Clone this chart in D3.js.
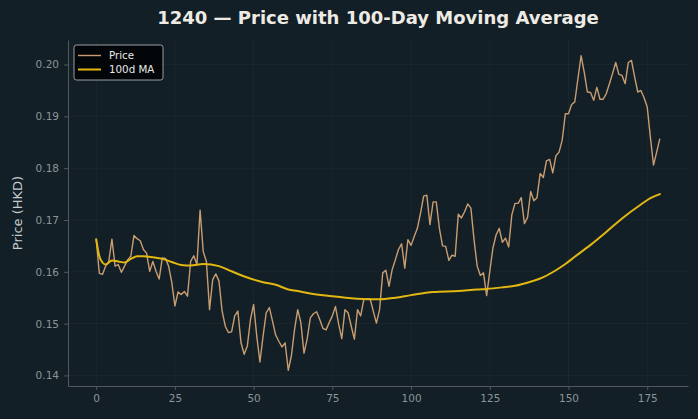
<!DOCTYPE html>
<html>
<head>
<meta charset="utf-8">
<script src="https://cdn.jsdelivr.net/npm/d3@7"></script>
<style>
  html, body { margin: 0; padding: 0; background: #121f26; }
  svg { display: block; font-family: "DejaVu Sans", sans-serif; }
</style>
</head>
<body>
<svg id="chart" width="698" height="419"></svg>
<script>
// closing price, one value per trading day (day 0..179)
const price = [
  0.1663, 0.1597, 0.1595, 0.1611, 0.1620, 0.1663, 0.1611, 0.1614, 0.1599, 0.1611,
  0.1623, 0.1630, 0.1670, 0.1664, 0.1660, 0.1643, 0.1636, 0.1601, 0.1620, 0.1601,
  0.1586, 0.1627, 0.1626, 0.1611, 0.1580, 0.1534, 0.1561, 0.1556, 0.1562, 0.1553,
  0.1620, 0.1631, 0.1614, 0.1719, 0.1639, 0.1620, 0.1527, 0.1585, 0.1596, 0.1582,
  0.1524, 0.1495, 0.1483, 0.1484, 0.1515, 0.1524, 0.1463, 0.1441, 0.1457, 0.1508,
  0.1537, 0.1476, 0.1426, 0.1476, 0.1521, 0.1531, 0.1505, 0.1478, 0.1466, 0.1455,
  0.1463, 0.1410, 0.1438, 0.1489, 0.1527, 0.1502, 0.1443, 0.1470, 0.1511, 0.1519,
  0.1523, 0.1508, 0.1491, 0.1488, 0.1502, 0.1515, 0.1533, 0.1499, 0.1471, 0.1527,
  0.1521, 0.1495, 0.1470, 0.1527, 0.1515, 0.1547, 0.1548, 0.1548, 0.1524, 0.1501,
  0.1527, 0.1598, 0.1603, 0.1572, 0.1604, 0.1623, 0.1643, 0.1654, 0.1607, 0.1662,
  0.1651, 0.1668, 0.1684, 0.1713, 0.1746, 0.1748, 0.1691, 0.1735, 0.1735, 0.1684,
  0.1650, 0.1649, 0.1622, 0.1632, 0.1630, 0.1711, 0.1704, 0.1716, 0.1731, 0.1723,
  0.1662, 0.1611, 0.1593, 0.1598, 0.1554, 0.1601, 0.1646, 0.1671, 0.1684, 0.1657,
  0.1665, 0.1648, 0.1710, 0.1732, 0.1732, 0.1743, 0.1693, 0.1705, 0.1755, 0.1737,
  0.1743, 0.1790, 0.1782, 0.1814, 0.1817, 0.1791, 0.1824, 0.1831, 0.1854, 0.1905,
  0.1905, 0.1923, 0.1928, 0.1973, 0.2017, 0.1985, 0.1947, 0.1946, 0.1931, 0.1956,
  0.1933, 0.1933, 0.1944, 0.1963, 0.1983, 0.2004, 0.1981, 0.1979, 0.1963, 0.2004,
  0.2008, 0.1976, 0.1947, 0.1950, 0.1936, 0.1918, 0.1860, 0.1806, 0.1831, 0.1857
];

// 100-day moving average at these days
const maDays = [0, 1, 2, 3, 5, 7, 9, 11, 13, 15, 18, 21, 24, 27, 30, 34, 39, 43, 48, 53,
  57, 61, 64, 68, 75, 81, 87, 90, 95, 100, 107, 115, 121, 124, 129, 133, 139, 141, 146,
  149, 152, 157, 162, 167, 173, 176, 179];
const maValues = [0.1663, 0.1630, 0.1618, 0.1614, 0.1622, 0.1620, 0.1618, 0.1625, 0.1630,
  0.1630, 0.1628, 0.1625, 0.1619, 0.1613, 0.1612, 0.1615, 0.1611, 0.1601, 0.1589, 0.1580,
  0.1575, 0.1566, 0.1563, 0.1558, 0.1553, 0.1549, 0.1547, 0.1547, 0.1550, 0.1555, 0.1561,
  0.1563, 0.1566, 0.1567, 0.1570, 0.1573, 0.1583, 0.1587, 0.1603, 0.1615, 0.1629, 0.1652,
  0.1677, 0.1703, 0.1730, 0.1742, 0.1750];

const xTicks = [0, 25, 50, 75, 100, 125, 150, 175];
const yTicks = [0.14, 0.15, 0.16, 0.17, 0.18, 0.19, 0.20];
const seriesNames = ["Price", "100d MA"];

const bg = "#121f26";
const priceColor = "#c99d71";
const maColor = "#e2b712";
const spineColor = "#4f595e";
const tickText = "#8b9599";

const svg = d3.select("#chart");
const width = 698, height = 419;
const margin = {left: 68, right: 10, top: 40, bottom: 33};

svg.append("rect").attr("width", width).attr("height", height).attr("fill", bg);

// matplotlib-style 5% padding around data
const xPad = (price.length - 1) * 0.05;
let yMin = d3.min(price), yMax = d3.max(price);
const yPad = (yMax - yMin) * 0.05;

const x = d3.scaleLinear()
  .domain([-xPad, price.length - 1 + xPad])
  .range([margin.left, width - margin.right]);
const y = d3.scaleLinear()
  .domain([yMin - yPad, yMax + yPad])
  .range([height - margin.bottom, margin.top]);

// grid
const grid = svg.append("g").attr("stroke", "#ffffff").attr("stroke-opacity", 0.045).attr("stroke-width", 0.8);
grid.selectAll("line.gx").data(xTicks).join("line")
  .attr("x1", d => x(d)).attr("x2", d => x(d))
  .attr("y1", margin.top).attr("y2", height - margin.bottom);
grid.selectAll("line.gy").data(yTicks).join("line")
  .attr("y1", d => y(d)).attr("y2", d => y(d))
  .attr("x1", margin.left).attr("x2", width - margin.right);

// axes
const xAxis = svg.append("g")
  .attr("transform", "translate(0," + (height - margin.bottom) + ")")
  .call(d3.axisBottom(x).tickValues(xTicks).tickSize(4).tickPadding(5).tickSizeOuter(0));
const yAxis = svg.append("g")
  .attr("transform", "translate(" + margin.left + ",0)")
  .call(d3.axisLeft(y).tickValues(yTicks).tickFormat(d3.format(".2f")).tickSize(4).tickPadding(5).tickSizeOuter(0));

[xAxis, yAxis].forEach(a => {
  a.select(".domain").attr("stroke", spineColor).attr("stroke-width", 1);
  a.selectAll(".tick line").attr("stroke", spineColor);
  a.selectAll(".tick text").attr("fill", tickText).attr("font-size", 10.5)
    .attr("font-family", "DejaVu Sans");
});

// lines
const priceLine = d3.line()
  .x((d, i) => x(i))
  .y(d => y(d));
svg.append("path").datum(price)
  .attr("d", priceLine)
  .attr("fill", "none")
  .attr("stroke", priceColor)
  .attr("stroke-width", 1.4)
  .attr("stroke-linejoin", "round");

const maLine = d3.line()
  .x(d => x(d[0]))
  .y(d => y(d[1]))
  .curve(d3.curveMonotoneX);
svg.append("path").datum(d3.zip(maDays, maValues))
  .attr("d", maLine)
  .attr("fill", "none")
  .attr("stroke", maColor)
  .attr("stroke-width", 2)
  .attr("stroke-linecap", "round");

// title + y label
svg.append("text")
  .attr("x", (margin.left + width - margin.right) / 2)
  .attr("y", 24)
  .attr("text-anchor", "middle")
  .attr("font-size", 18)
  .attr("font-weight", "bold")
  .attr("fill", "#eeebe4")
  .text("1240 \u2014 Price with 100-Day Moving Average");

svg.append("text")
  .attr("transform", "translate(22," + ((margin.top + height - margin.bottom) / 2) + ") rotate(-90)")
  .attr("text-anchor", "middle")
  .attr("font-size", 13)
  .attr("fill", "#c5cbce")
  .text("Price (HKD)");

// legend
const legend = svg.append("g").attr("transform", "translate(74,45)");
legend.append("rect")
  .attr("width", 89).attr("height", 35).attr("rx", 2.5)
  .attr("fill", "#030506").attr("fill-opacity", 0.95)
  .attr("stroke", "#a9afb2").attr("stroke-width", 0.9);
const lg = legend.selectAll("g.item").data(seriesNames).join("g")
  .attr("transform", (d, i) => "translate(0," + (10.5 + i * 14) + ")");
lg.append("line")
  .attr("x1", 4).attr("x2", 27)
  .attr("stroke", (d, i) => i === 0 ? priceColor : maColor)
  .attr("stroke-width", (d, i) => i === 0 ? 1.4 : 2);
lg.append("text")
  .attr("x", 35).attr("y", 3.8)
  .attr("font-size", 10.3)
  .attr("fill", "#e8e8e8")
  .text(d => d);
</script>
</body>
</html>
